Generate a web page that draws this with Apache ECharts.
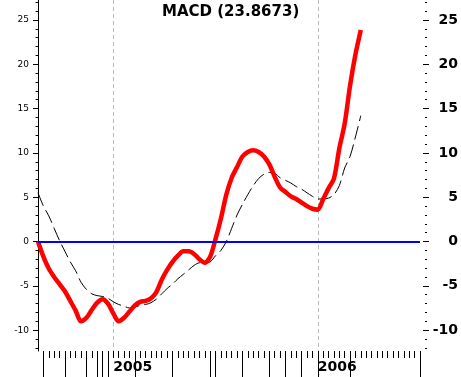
<!DOCTYPE html>
<html><head><meta charset="utf-8">
<script src="https://cdn.jsdelivr.net/npm/echarts@6/dist/echarts.min.js"></script>
<style>html,body{margin:0;padding:0;background:#fff}#c{width:461px;height:377px}</style>
</head><body><div id="c"></div>
<script>
// 72 periods on the time axis (index 14 = start of 2005, index 52 = start of 2006)
const periods = Array.from({length: 72}, (_, i) => 'P' + i);
const macd = [0.0, -1.7, -3.05, -4.0, -4.8, -5.6, -6.7, -7.8, -9.0, -8.6,
  -7.7, -6.9, -6.5, -7.0, -8.1, -9.0, -8.6, -7.9, -7.2, -6.8,
  -6.7, -6.4, -5.7, -4.3, -3.2, -2.3, -1.6, -1.1, -1.1, -1.4,
  -2.0, -2.4, -1.7, 0.3, 2.6, 5.3, 7.2, 8.4, 9.6, 10.1,
  10.3, 10.1, 9.6, 8.7, 7.3, 6.1, 5.6, 5.1, 4.8, 4.4,
  4.0, 3.7, 3.6, 4.8, 6.0, 7.1, 10.5, 13.3, 17.6, 21.1,
  23.8673];
const signal = [5.5, 4.0, 2.9, 1.5, 0.1, -1.1, -2.3, -3.3, -4.6, -5.4,
  -5.9, -6.1, -6.2, -6.4, -6.8, -7.1, -7.3, -7.5, -7.4, -7.2,
  -7.1, -6.9, -6.5, -5.9, -5.3, -4.8, -4.2, -3.7, -3.2, -2.7,
  -2.4, -2.4, -2.3, -1.6, -1.0, 0.0, 1.5, 3.0, 4.2, 5.3,
  6.3, 7.1, 7.6, 7.8, 7.7, 7.2, 6.9, 6.6, 6.2, 5.9,
  5.5, 5.1, 4.8, 4.8, 4.9, 5.3, 6.3, 8.3, 9.6, 11.8,
  14.2];
const yearIdx = [14, 52];
const yearText = ['2005', '2006'];
const majorTickIdx = [1, 5, 9, 11, 12, 13, 18, 25, 32, 33, 38, 43, 46, 49, 52, 58, 71];
const yTicks = [-10, -5, 0, 5, 10, 15, 20, 25];
const yMinorTicks = [-12,-11,-10,-9,-8,-7,-6,-5,-4,-3,-2,-1,0,1,2,3,4,5,6,7,8,9,10,11,12,13,14,15,16,17,18,19,20,21,22,23,24,25,26,27];
const titleText = 'MACD (23.8673)';
const yMin = -12.35, yMax = 27.25;

const chart = echarts.init(document.getElementById('c'), null, {renderer: 'canvas'});
const black = '#000';
chart.setOption({
  animation: false,
  backgroundColor: '#fff',
  title: {text: titleText, left: 162, top: 5, padding: 0,
    textStyle: {fontFamily: 'DejaVu Sans', fontWeight: 'bold', fontSize: 15, color: black}},
  grid: {left: 38, right: 41, top: 0, bottom: 26, containLabel: false},
  xAxis: [
    {type: 'category', data: periods, boundaryGap: false, position: 'bottom',
      axisLine: {show: false, onZero: false},
      axisTick: {show: true, length: 7, interval: (i) => i > 0, lineStyle: {color: black}},
      axisLabel: {show: false},
      splitLine: {show: true, interval: (i) => yearIdx.includes(i),
        lineStyle: {color: '#bbbbbb', width: 1, type: [4, 3]}}},
    {type: 'category', data: periods, boundaryGap: false, position: 'bottom',
      axisLine: {show: false, onZero: false},
      axisTick: {show: true, length: 26, interval: (i) => majorTickIdx.includes(i), lineStyle: {color: black}},
      axisLabel: {show: true, interval: (i) => yearIdx.includes(i),
        formatter: (v, i) => yearText[yearIdx.indexOf(i)] || '',
        align: 'left', margin: 9, fontFamily: 'DejaVu Sans', fontWeight: 'bold', fontSize: 14, color: black},
      splitLine: {show: false}}
  ],
  yAxis: [
    {type: 'value', position: 'left', min: yMin, max: yMax,
      axisLine: {show: true, onZero: false, lineStyle: {color: black, width: 1}},
      axisTick: {show: true, length: 5, customValues: yTicks, lineStyle: {color: black}},
      axisLabel: {show: true, customValues: yTicks, margin: 9, fontFamily: 'DejaVu Sans', fontSize: 9, color: black},
      splitLine: {show: false}},
    {type: 'value', position: 'left', min: yMin, max: yMax,
      axisLine: {show: false, onZero: false},
      axisTick: {show: true, length: 2.5, customValues: yMinorTicks, lineStyle: {color: black}},
      axisLabel: {show: false}, splitLine: {show: false}},
    {type: 'value', position: 'right', offset: 3, min: yMin, max: yMax,
      axisLine: {show: false, onZero: false},
      axisTick: {show: true, length: 6, customValues: yTicks, lineStyle: {color: black}},
      axisLabel: {show: true, customValues: yTicks, margin: 35, align: 'right',
        fontFamily: 'DejaVu Sans', fontWeight: 'bold', fontSize: 14, color: black},
      splitLine: {show: false}},
    {type: 'value', position: 'right', offset: 5, min: yMin, max: yMax,
      axisLine: {show: false, onZero: false},
      axisTick: {show: true, length: 2, customValues: yMinorTicks, lineStyle: {color: black}},
      axisLabel: {show: false}, splitLine: {show: false}}
  ],
  series: [
    {type: 'line', name: 'Signal', data: signal, xAxisIndex: 0, yAxisIndex: 0,
      smooth: 0.3, symbol: 'none', z: 3,
      lineStyle: {color: black, width: 1, type: [14, 5]},
      markLine: {silent: true, symbol: 'none', label: {show: false},
        lineStyle: {color: '#0000ff', width: 2, type: 'solid'},
        data: [{yAxis: 0}]}},
    {type: 'line', name: 'MACD', data: macd, xAxisIndex: 0, yAxisIndex: 0,
      smooth: 0.3, symbol: 'none', z: 4,
      lineStyle: {color: '#ff0000', width: 4.5}}
  ]
});
</script></body></html>
